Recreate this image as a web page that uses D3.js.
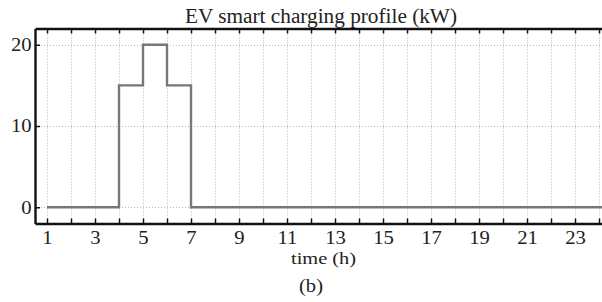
<!DOCTYPE html>
<html>
<head>
<meta charset="utf-8">
<script src="https://cdn.jsdelivr.net/npm/d3@7"></script>
<style>
  body { margin: 0; background: #fff; }
  svg text { font-family: "Liberation Serif", "DejaVu Serif", serif; fill: #222; }
</style>
</head>
<body>
<div id="chart"></div>
<script>
  'use strict';

  // hour of day and charging power (kW) held from that hour to the next
  var hours = d3.range(1, 25);
  var power = [0, 0, 0, 15, 20, 15, 0, 0, 0, 0, 0, 0,
               0, 0, 0, 0, 0, 0, 0, 0, 0, 0, 0, 0];
  var xTickLabels = [1, 3, 5, 7, 9, 11, 13, 15, 17, 19, 21, 23];
  var yTicks = [0, 10, 20];

  var width = 602, height = 302;
  var plotLeft = 35, plotTop = 28.5, plotRight = 611, plotBottom = 223.5;

  var svg = d3.select('#chart').append('svg')
    .attr('width', width)
    .attr('height', height);

  var x = d3.scaleLinear().domain([0.5, 24.5]).range([plotLeft, plotRight]);
  var y = d3.scaleLinear().domain([-2, 22]).range([plotBottom, plotTop]);

  // dotted grid
  var grid = svg.append('g')
    .attr('stroke', '#b8b8b8')
    .attr('stroke-width', 1)
    .attr('stroke-dasharray', '1,2');

  grid.selectAll('line.v').data(hours).enter().append('line')
    .attr('class', 'v')
    .attr('x1', function(d) { return Math.round(x(d)) + 0.5; })
    .attr('x2', function(d) { return Math.round(x(d)) + 0.5; })
    .attr('y1', plotTop)
    .attr('y2', plotBottom);

  grid.selectAll('line.h').data(yTicks).enter().append('line')
    .attr('class', 'h')
    .attr('x1', plotLeft)
    .attr('x2', plotRight)
    .attr('y1', function(d) { return Math.round(y(d)) + 0.5; })
    .attr('y2', function(d) { return Math.round(y(d)) + 0.5; });

  // the profile, as steps
  var series = hours.map(function(h, i) { return { h: h, v: power[i] }; });
  series.push({ h: 24.5, v: power[power.length - 1] });

  var line = d3.line()
    .x(function(d) { return x(d.h); })
    .y(function(d) { return y(d.v); })
    .curve(d3.curveStepAfter);

  svg.append('path')
    .datum(series)
    .attr('fill', 'none')
    .attr('stroke', '#777')
    .attr('stroke-width', 2.4)
    .attr('d', line);

  // axes: ticks pointing inward
  var xBottom = d3.axisBottom(x).tickValues(hours).tickSizeInner(-5).tickSizeOuter(0)
    .tickFormat(function(d) { return xTickLabels.indexOf(d) >= 0 ? d : ''; })
    .tickPadding(8);
  var gxb = svg.append('g').attr('transform', 'translate(0,' + plotBottom + ')').call(xBottom);

  var xTop = d3.axisTop(x).tickValues(hours).tickSizeInner(-5).tickSizeOuter(0)
    .tickFormat('');
  var gxt = svg.append('g').attr('transform', 'translate(0,' + plotTop + ')').call(xTop);

  var yLeft = d3.axisLeft(y).tickValues(yTicks).tickSizeInner(-5).tickSizeOuter(0)
    .tickPadding(3);
  var gyl = svg.append('g').attr('transform', 'translate(' + plotLeft + ',0)').call(yLeft);

  [gxb, gxt, gyl].forEach(function(g) {
    g.select('.domain').attr('stroke', '#111').attr('stroke-width', 2.4);
    g.selectAll('.tick line').attr('stroke', '#111').attr('stroke-width', 1.5);
    g.selectAll('.tick text')
      .attr('font-family', '"Liberation Serif", serif')
      .attr('font-size', 18)
      .attr('fill', '#222')
      .attr('transform', 'scale(1.15,1)');
  });

  // titles (the source type is set a little wide)
  svg.append('text')
    .attr('x', 185)
    .attr('y', 22.5)
    .attr('font-size', 20)
    .attr('textLength', 272)
    .attr('lengthAdjust', 'spacingAndGlyphs')
    .text('EV smart charging profile (kW)');

  svg.append('text')
    .attr('x', 291)
    .attr('y', 264)
    .attr('font-size', 17)
    .attr('textLength', 65)
    .attr('lengthAdjust', 'spacingAndGlyphs')
    .text('time (h)');

  svg.append('text')
    .attr('x', 299)
    .attr('y', 292)
    .attr('font-size', 18)
    .attr('textLength', 24)
    .attr('lengthAdjust', 'spacingAndGlyphs')
    .text('(b)');
</script>
</body>
</html>
